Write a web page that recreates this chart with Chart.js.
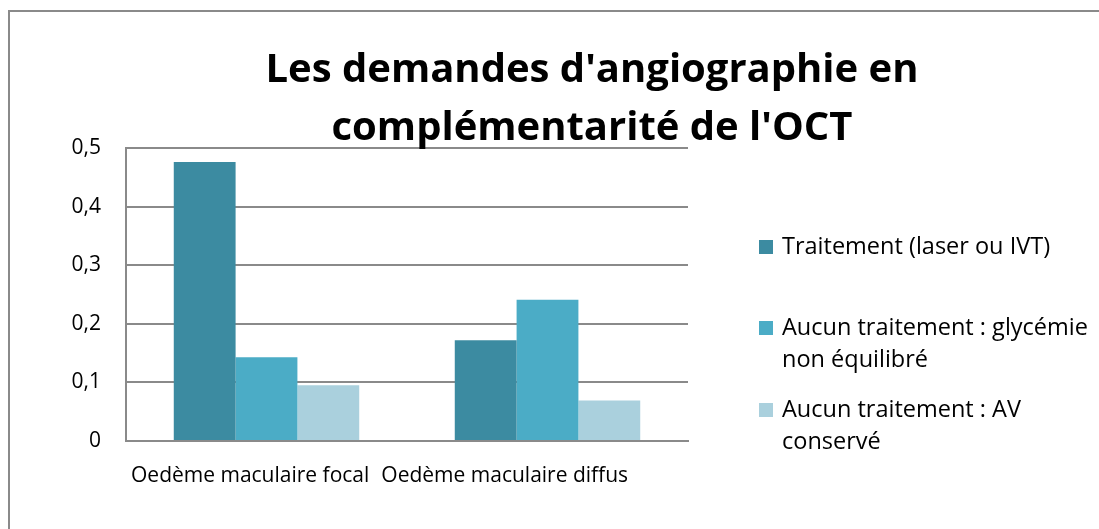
<!DOCTYPE html>
<html>
<head>
<meta charset="utf-8">
<script src="https://cdn.jsdelivr.net/npm/chart.js@4.4.1/dist/chart.umd.min.js"></script>
<style>
  html, body { margin: 0; padding: 0; background: #fff; }
  #wrap { position: relative; width: 1099px; height: 529px; overflow: hidden; }
  #frame { position: absolute; left: 8px; top: 10px; width: 1200px; height: 600px; border: 2px solid #8a8a8a; box-sizing: border-box; }
  canvas { position: absolute; left: 0; top: 0; }
</style>
</head>
<body>
<div id="wrap">
  <div id="frame"></div>
  <canvas id="chart" width="1099" height="529"></canvas>
</div>
<script>
const titleLines = ["Les demandes d'angiographie en", "complémentarité de l'OCT"];
const categories = ['Oedème maculaire focal', 'Oedème maculaire diffus'];
const seriesNames = ['Traitement (laser ou IVT)', 'Aucun traitement : glycémie non équilibré', 'Aucun traitement : AV conservé'];
const legendLines = [['Traitement (laser ou IVT)'], ['Aucun traitement : glycémie', 'non équilibré'], ['Aucun traitement : AV', 'conservé']];
const traitement = [0.476, 0.172];
const glycemie = [0.143, 0.241];
const avConserve = [0.095, 0.069];
const yTicks = [0, 0.1, 0.2, 0.3, 0.4, 0.5];
const colors = ['#3c8ba1', '#4bacc6', '#aad0dd'];

const FONT = '"Open Sans"';

// title, packed category labels and the wrapped legend (like the Excel original)
const extras = {
  id: 'extras',
  afterDraw(chart) {
    const ctx = chart.ctx;
    const area = chart.chartArea;
    ctx.save();
    ctx.fillStyle = '#000';
    ctx.font = 'bold 40px ' + FONT;
    ctx.textAlign = 'center';
    ctx.textBaseline = 'alphabetic';
    ctx.fillText(titleLines[0], 592, 82);
    ctx.fillText(titleLines[1], 592, 140);

    ctx.font = '21px ' + FONT;
    ctx.textAlign = 'left';
    ctx.textBaseline = 'middle';
    let x = area.left + 5;
    categories.forEach(c => {
      ctx.fillText(c, x, 476);
      x += ctx.measureText(c).width + 12;
    });

    ctx.font = '23.5px ' + FONT;
    let y = 247;
    const gaps = [81, 82];
    legendLines.forEach((lines, i) => {
      ctx.fillStyle = colors[i];
      ctx.fillRect(759, y - 7, 14, 14);
      ctx.fillStyle = '#000';
      lines.forEach((ln, j) => ctx.fillText(ln, 782, y + j * 32));
      y += gaps[i] || 0;
    });
    ctx.restore();
  }
};

new Chart(document.getElementById('chart'), {
  type: 'bar',
  data: {
    labels: categories,
    datasets: [
      { label: seriesNames[0], data: traitement, backgroundColor: colors[0] },
      { label: seriesNames[1], data: glycemie, backgroundColor: colors[1] },
      { label: seriesNames[2], data: avConserve, backgroundColor: colors[2] }
    ]
  },
  options: {
    responsive: false,
    animation: false,
    layout: { padding: { left: 0, top: 148, right: 411, bottom: 88 } },
    datasets: { bar: { categoryPercentage: 0.66, barPercentage: 1 } },
    plugins: { legend: { display: false }, title: { display: false }, tooltip: { enabled: false } },
    scales: {
      x: {
        grid: { display: false },
        border: { color: '#8a8a8a', width: 2 },
        ticks: { display: false },
        afterFit(s) { s.height = 0; }
      },
      y: {
        min: 0, max: 0.5,
        afterBuildTicks(s) { s.ticks = yTicks.map(v => ({ value: v })); },
        grid: { color: '#8a8a8a', lineWidth: 2, drawTicks: false },
        border: { color: '#8a8a8a', width: 2 },
        ticks: {
          padding: 25,
          color: '#000',
          font: { family: FONT, size: 21 },
          callback: v => String(Math.round(v * 10) / 10).replace('.', ',')
        },
        afterFit(s) { s.width = 126; }
      }
    }
  },
  plugins: [extras]
});
</script>
</body>
</html>
